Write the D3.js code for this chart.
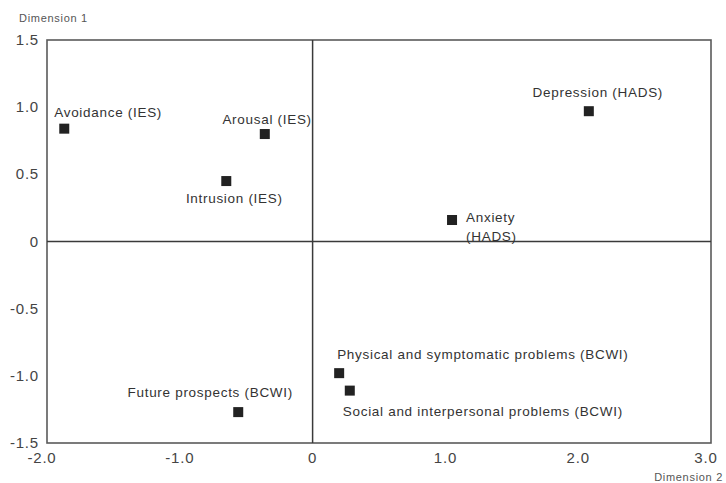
<!DOCTYPE html>
<html>
<head>
<meta charset="utf-8">
<script src="https://cdn.jsdelivr.net/npm/d3@7"></script>
<style>
  body { margin: 0; background: #fff; }
  svg { display: block; font-family: "Liberation Sans", Arial, sans-serif; }
</style>
</head>
<body>
<svg id="chart" width="726" height="483"></svg>
<script>
// correspondence analysis map - two dimensions

const labels = [
  'Avoidance (IES)', 'Arousal (IES)', 'Intrusion (IES)', 'Depression (HADS)',
  'Anxiety (HADS)', 'Physical and symptomatic problems (BCWI)',
  'Social and interpersonal problems (BCWI)', 'Future prospects (BCWI)'
];
const dim2 = [-1.87, -0.36, -0.65, 2.08, 1.05, 0.20, 0.28, -0.56];
const dim1 = [0.84, 0.80, 0.45, 0.97, 0.16, -0.98, -1.11, -1.27];

const xTicks = [-2, -1, 0, 1, 2, 3];
const xTickLabels = ['-2.0', '-1.0', '0', '1.0', '2.0', '3.0'];
const yTicks = [1.5, 1, 0.5, 0, -0.5, -1, -1.5];
const yTickLabels = ['1.5', '1.0', '0.5', '0', '-0.5', '-1.0', '-1.5'];

// where each label sits relative to its marker (dx, dy, anchor)
const labelPlace = [
  { dx: -10, dy: -12, anchor: 'start' },
  { dx: 47, dy: -10, anchor: 'end' },
  { dx: 8, dy: 22, anchor: 'middle' },
  { dx: 9, dy: -14, anchor: 'middle' },
  { dx: 14, dy: 2, anchor: 'start', lines: ['Anxiety', '(HADS)'] },
  { dx: -2, dy: -14, anchor: 'start' },
  { dx: -7, dy: 25, anchor: 'start' },
  { dx: -28, dy: -15, anchor: 'middle' }
];

const svg = d3.select('#chart');
const m = { left: 47, right: 711, top: 40, bottom: 443 };

const x = d3.scaleLinear().domain([-2, 3]).range([m.left, m.right]);
const y = d3.scaleLinear().domain([-1.5, 1.5]).range([m.bottom, m.top]);

// frame
svg.append('rect')
  .attr('x', m.left).attr('y', m.top)
  .attr('width', m.right - m.left).attr('height', m.bottom - m.top)
  .attr('fill', 'none').attr('stroke', '#5a5a5a').attr('stroke-width', 1.6);

// zero lines
svg.append('line')
  .attr('x1', x(0)).attr('x2', x(0)).attr('y1', m.top).attr('y2', m.bottom)
  .attr('stroke', '#3a3a3a').attr('stroke-width', 1.5);
svg.append('line')
  .attr('x1', m.left).attr('x2', m.right).attr('y1', y(0)).attr('y2', y(0))
  .attr('stroke', '#3a3a3a').attr('stroke-width', 1.5);

// tick labels
svg.append('g').selectAll('text')
  .data(yTicks)
  .join('text')
  .attr('x', m.left - 8)
  .attr('y', d => y(d) + 5)
  .attr('text-anchor', 'end')
  .attr('font-size', 15)
  .attr('letter-spacing', 0.8)
  .attr('fill', '#444')
  .text((d, i) => yTickLabels[i]);

svg.append('g').selectAll('text')
  .data(xTicks)
  .join('text')
  .attr('x', d => x(d) - (d === -2 ? 5 : d === 3 ? 5 : 0))
  .attr('y', m.bottom + 20)
  .attr('text-anchor', 'middle')
  .attr('font-size', 15)
  .attr('letter-spacing', 0.8)
  .attr('fill', '#444')
  .text((d, i) => xTickLabels[i]);

// axis names
svg.append('text')
  .attr('x', 19).attr('y', 22)
  .attr('font-size', 11).attr('letter-spacing', 0.7).attr('fill', '#555')
  .text('Dimension 1');
svg.append('text')
  .attr('x', 723).attr('y', 481)
  .attr('text-anchor', 'end')
  .attr('font-size', 11).attr('letter-spacing', 0.7).attr('fill', '#555')
  .text('Dimension 2');

// markers
const pts = labels.map((l, i) => ({ label: l, x: dim2[i], y: dim1[i], p: labelPlace[i] }));

svg.append('g').selectAll('rect')
  .data(pts)
  .join('rect')
  .attr('x', d => x(d.x) - 5)
  .attr('y', d => y(d.y) - 5)
  .attr('width', 10).attr('height', 10)
  .attr('fill', '#222');

const lab = svg.append('g').selectAll('text')
  .data(pts)
  .join('text')
  .attr('x', d => x(d.x) + d.p.dx)
  .attr('y', d => y(d.y) + d.p.dy)
  .attr('text-anchor', d => d.p.anchor)
  .attr('font-size', 13.5)
  .attr('letter-spacing', 0.7)
  .attr('fill', '#333');

lab.each(function(d) {
  const t = d3.select(this);
  if (d.p.lines) {
    d.p.lines.forEach((s, k) => {
      t.append('tspan').attr('x', x(d.x) + d.p.dx).attr('dy', k === 0 ? 0 : 19).text(s);
    });
  } else {
    t.text(d.label);
  }
});
</script>
</body>
</html>
